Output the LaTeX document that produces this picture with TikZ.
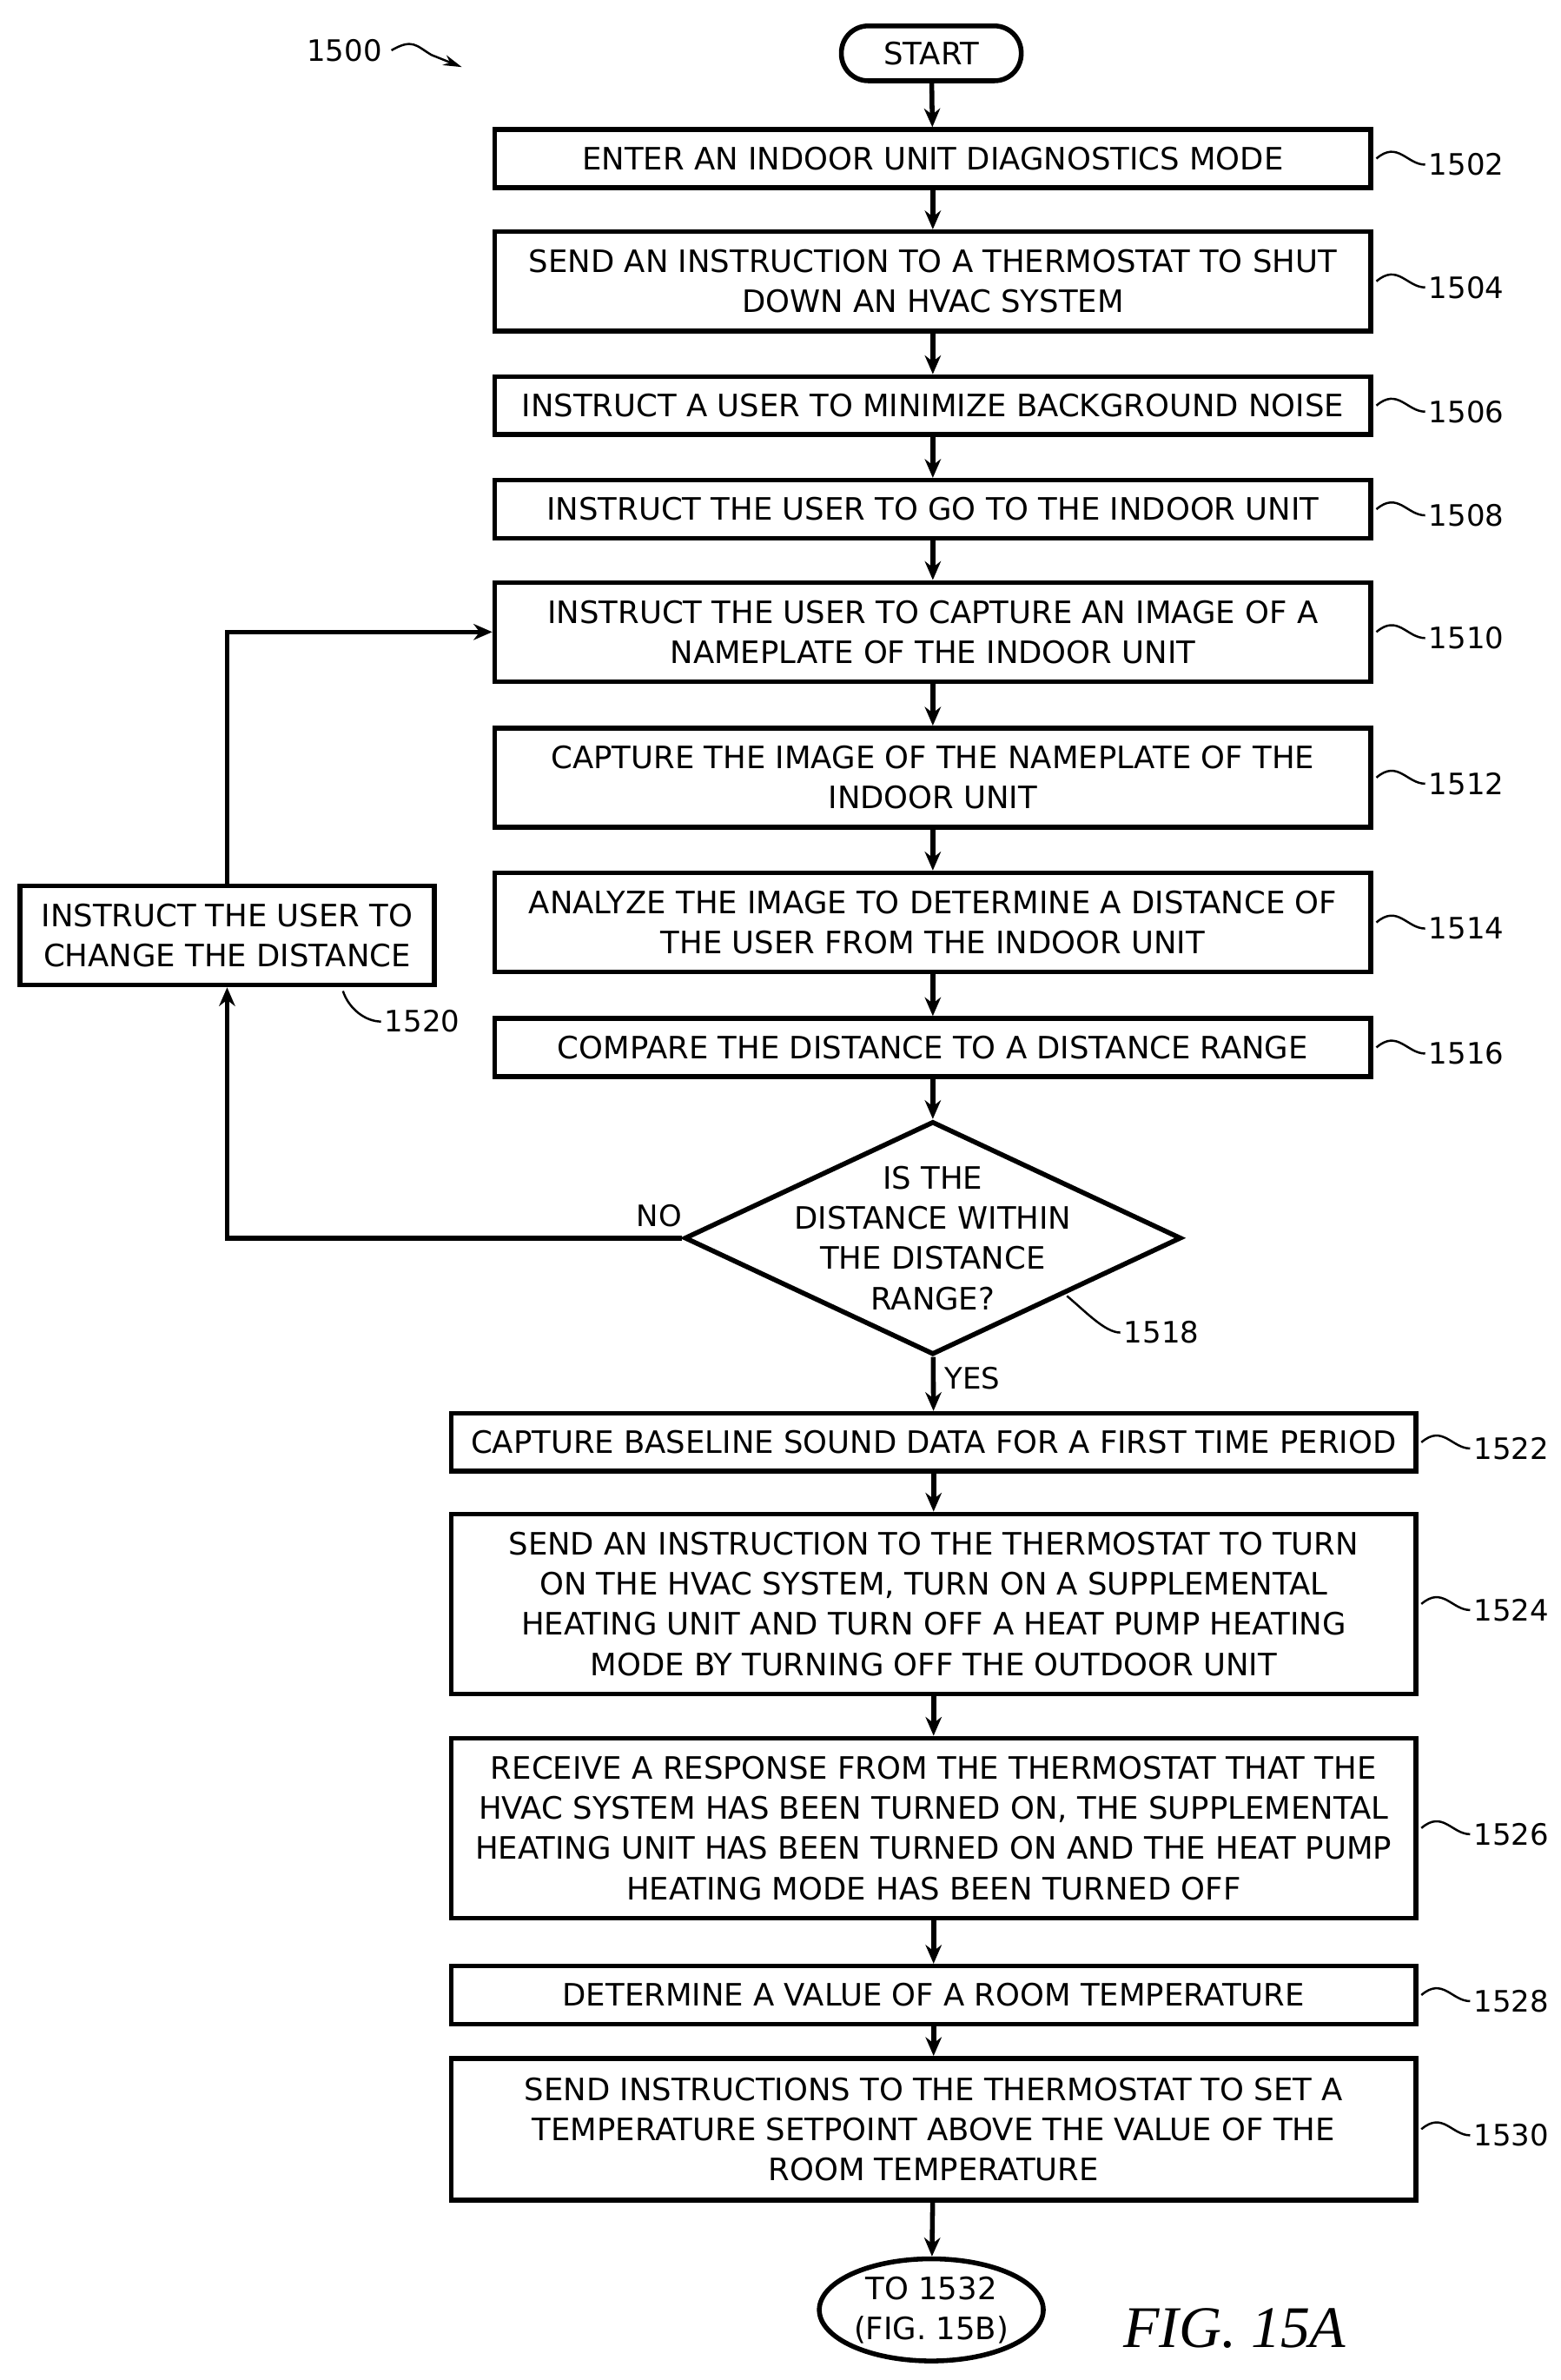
\documentclass[tikz,border=0pt]{standalone}
\usepackage{fontspec}
\setmainfont{DejaVu Sans}
\usetikzlibrary{shapes.geometric,arrows.meta}
\tikzset{
  box/.style={draw=black, line width=1.8pt, align=center, inner sep=0pt, font=\fontsize{11.5}{15}\selectfont},
  flow/.style={line width=1.8pt, -{Stealth[length=7pt,width=6pt]}},
  lead/.style={line width=0.8pt},
  num/.style={font=\fontsize{11}{12}\selectfont, anchor=west, inner sep=1pt},
}
\newcommand{\refnum}[2]{\draw[lead] (#1.east) ++(2,0) .. controls +(14,-12) and +(-12,0) .. ++(32,4) node[num]{#2};}
\begin{document}
\begin{tikzpicture}[x=0.02cm, y=-0.02cm]
  \useasboundingbox (0,0) rectangle (1024,1561);

  \node[box, rounded corners=10pt, minimum width=2.36cm, minimum height=0.72cm] (start) at (611,35) {START};
  \node[box, minimum width=11.5cm, minimum height=0.76cm] (b1502) at (612,104) {ENTER AN INDOOR UNIT DIAGNOSTICS MODE};
  \node[box, minimum width=11.5cm, minimum height=1.3cm] (b1504) at (612,184.5) {SEND AN INSTRUCTION TO A THERMOSTAT TO SHUT\\DOWN AN HVAC SYSTEM};
  \node[box, minimum width=11.5cm, minimum height=0.76cm] (b1506) at (612,266) {INSTRUCT A USER TO MINIMIZE BACKGROUND NOISE};
  \node[box, minimum width=11.5cm, minimum height=0.76cm] (b1508) at (612,334) {INSTRUCT THE USER TO GO TO THE INDOOR UNIT};
  \node[box, minimum width=11.5cm, minimum height=1.3cm] (b1510) at (612,414.5) {INSTRUCT THE USER TO CAPTURE AN IMAGE OF A\\NAMEPLATE OF THE INDOOR UNIT};
  \node[box, minimum width=11.5cm, minimum height=1.3cm] (b1512) at (612,510) {CAPTURE THE IMAGE OF THE NAMEPLATE OF THE\\INDOOR UNIT};
  \node[box, minimum width=11.5cm, minimum height=1.3cm] (b1514) at (612,605) {ANALYZE THE IMAGE TO DETERMINE A DISTANCE OF\\THE USER FROM THE INDOOR UNIT};
  \node[box, minimum width=11.5cm, minimum height=0.76cm] (b1516) at (612,687) {COMPARE THE DISTANCE TO A DISTANCE RANGE};
  \node[box, diamond, minimum width=6.52cm, minimum height=3.06cm] (d1518) at (612,812) {};
  \node[box, draw=none] at (612,812) {IS THE\\DISTANCE WITHIN\\THE DISTANCE\\RANGE?};
  \node[box, minimum width=5.44cm, minimum height=1.3cm] (b1520) at (149,613.5) {INSTRUCT THE USER TO\\CHANGE THE DISTANCE};
  \node[box, minimum width=12.66cm, minimum height=0.76cm] (b1522) at (612.5,946) {CAPTURE BASELINE SOUND DATA FOR A FIRST TIME PERIOD};
  \node[box, minimum width=12.66cm, minimum height=2.36cm] (b1524) at (612.5,1052) {SEND AN INSTRUCTION TO THE THERMOSTAT TO TURN\\ON THE HVAC SYSTEM, TURN ON A SUPPLEMENTAL\\HEATING UNIT AND TURN OFF A HEAT PUMP HEATING\\MODE BY TURNING OFF THE OUTDOOR UNIT};
  \node[box, minimum width=12.66cm, minimum height=2.36cm] (b1526) at (612.5,1199) {RECEIVE A RESPONSE FROM THE THERMOSTAT THAT THE\\HVAC SYSTEM HAS BEEN TURNED ON, THE SUPPLEMENTAL\\HEATING UNIT HAS BEEN TURNED ON AND THE HEAT PUMP\\HEATING MODE HAS BEEN TURNED OFF};
  \node[box, minimum width=12.66cm, minimum height=0.76cm] (b1528) at (612.5,1308.5) {DETERMINE A VALUE OF A ROOM TEMPERATURE};
  \node[box, minimum width=12.66cm, minimum height=1.86cm] (b1530) at (612.5,1396.5) {SEND INSTRUCTIONS TO THE THERMOSTAT TO SET A\\TEMPERATURE SETPOINT ABOVE THE VALUE OF THE\\ROOM TEMPERATURE};
  \node[box, ellipse, minimum width=2.94cm, minimum height=1.34cm] (end) at (611,1515) {};
  \node[box, draw=none] at (611,1515) {TO 1532\\(FIG. 15B)};
  \node[font=\fontsize{22}{24}\selectfont\itshape\fontspec{Liberation Serif}] (fig) at (810,1527) {FIG. 15A};

  % main flow
  \draw[flow] (start) -- (b1502);
  \draw[flow] (b1502) -- (b1504);
  \draw[flow] (b1504) -- (b1506);
  \draw[flow] (b1506) -- (b1508);
  \draw[flow] (b1508) -- (b1510);
  \draw[flow] (b1510) -- (b1512);
  \draw[flow] (b1512) -- (b1514);
  \draw[flow] (b1514) -- (b1516);
  \draw[flow] (b1516) -- (d1518);
  \draw[flow] (d1518) -- node[right, font=\fontsize{11}{12}\selectfont, pos=0.4]{YES} (b1522);
  \draw[flow] (b1522) -- (b1524);
  \draw[flow] (b1524) -- (b1526);
  \draw[flow] (b1526) -- (b1528);
  \draw[flow] (b1528) -- (b1530);
  \draw[flow] (b1530) -- (end);

  % loop back
  \draw[flow] (d1518.west) -- node[above, font=\fontsize{11}{12}\selectfont, pos=0.05]{NO} (b1520.south |- d1518.west) -- (b1520.south);
  \draw[flow] (b1520.north) -- (b1520.north |- b1510.west) -- (b1510.west);

  % reference numerals
  \refnum{b1502}{1502}
  \refnum{b1504}{1504}
  \refnum{b1506}{1506}
  \refnum{b1508}{1508}
  \refnum{b1510}{1510}
  \refnum{b1512}{1512}
  \refnum{b1514}{1514}
  \refnum{b1516}{1516}
  \refnum{b1522}{1522}
  \refnum{b1524}{1524}
  \refnum{b1526}{1526}
  \refnum{b1528}{1528}
  \refnum{b1530}{1530}
  \coordinate (c1518) at (700,850);
  \draw[lead] (c1518) .. controls +(12,10) and +(-10,0) .. (735,874) node[num]{1518};
  \coordinate (c1520) at (225,650);
  \draw[lead] (c1520) .. controls +(4,12) and +(-10,0) .. (250,670) node[num]{1520};
  \node[font=\fontsize{11}{12}\selectfont] (n1500) at (226,33) {1500};
  \coordinate (a1500) at (303,44);
  \draw[lead, -{Stealth[length=7pt,width=4pt]}] (n1500.east) .. controls +(14,-8) and +(-10,-6) .. (283,36) -- (a1500);
\end{tikzpicture}
\end{document}
